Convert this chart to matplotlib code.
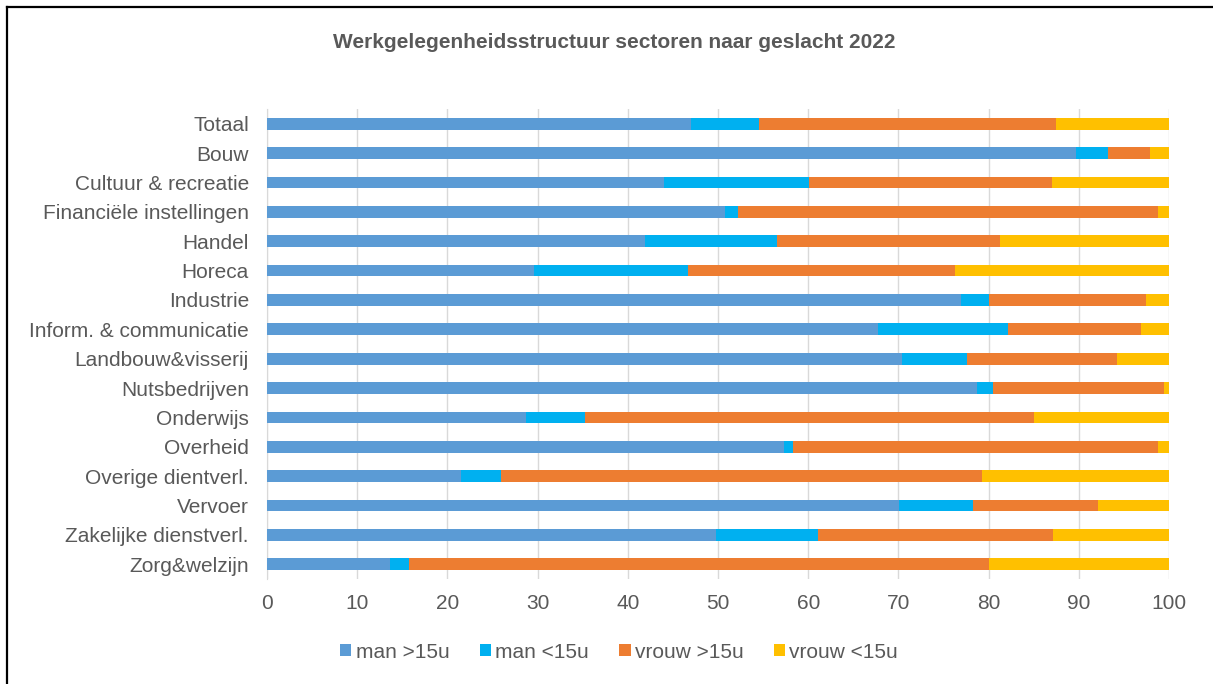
import numpy as np
import matplotlib.pyplot as plt
from matplotlib.lines import Line2D

plt.rcParams['font.family'] = ['Liberation Sans', 'DejaVu Sans']

# sectoren (van boven naar beneden)
sectoren = ["Totaal", "Bouw", "Cultuur & recreatie", "Financiële instellingen",
            "Handel", "Horeca", "Industrie", "Inform. & communicatie",
            "Landbouw&visserij", "Nutsbedrijven", "Onderwijs", "Overheid",
            "Overige dientverl.", "Vervoer", "Zakelijke dienstverl.", "Zorg&welzijn"]

man_groot = [47.0, 89.7, 44.0, 50.8, 41.9, 29.6, 76.9, 67.7, 70.4, 78.7, 28.7, 57.3, 21.5, 70.1, 49.8, 13.6]
man_klein = [7.5, 3.5, 16.1, 1.4, 14.6, 17.1, 3.1, 14.5, 7.2, 1.8, 6.6, 1.0, 4.4, 8.2, 11.3, 2.1]
vrouw_groot = [33.0, 4.7, 26.9, 46.6, 24.8, 29.6, 17.5, 14.7, 16.6, 19.0, 49.7, 40.5, 53.4, 13.8, 26.0, 64.3]
vrouw_klein = [12.5, 2.1, 13.0, 1.2, 18.7, 23.7, 2.5, 3.1, 5.8, 0.5, 15.0, 1.2, 20.7, 7.9, 12.9, 20.0]

reeksen = ["man >15u", "man <15u", "vrouw >15u", "vrouw <15u"]
kleuren = ["#5B9BD5", "#00B0F0", "#ED7D31", "#FFC000"]

W, H = 1213, 684
fig = plt.figure(figsize=(W / 100, H / 100), dpi=100)
ax = fig.add_axes([267 / W, 1 - 579 / H, (1169 - 267) / W, (579 - 109) / H])

y = np.arange(len(sectoren))
links = np.zeros(len(sectoren))
for waarden, naam, kleur in zip([man_groot, man_klein, vrouw_groot, vrouw_klein], reeksen, kleuren):
    ax.barh(y, waarden, left=links, height=0.4, color=kleur, label=naam, zorder=3)
    links += np.array(waarden)

ax.set_xlim(0, 100)
ax.set_ylim(len(sectoren) - 0.5, -0.5)
ax.set_xticks(range(0, 101, 10))
ax.set_yticks(y)
ax.set_yticklabels(sectoren)
ax.tick_params(axis='both', length=0, labelsize=15, colors='#595959')
ax.tick_params(axis='x', pad=11)
ax.tick_params(axis='y', pad=13)
ax.grid(axis='x', color='#D9D9D9', linewidth=1, zorder=0)
for s in ['top', 'right', 'bottom']:
    ax.spines[s].set_visible(False)
ax.spines['left'].set_color('#D9D9D9')

fig.text(614 / W, 1 - 43 / H, "Werkgelegenheidsstructuur sectoren naar geslacht 2022",
         ha='center', va='center', fontsize=15, fontweight='bold', color='#595959')

fig.legend(loc='center', bbox_to_anchor=(619 / W, 1 - 652 / H), ncol=4, frameon=False,
           fontsize=15, labelcolor='#595959', handlelength=0.55, handleheight=0.55,
           handletextpad=0.2, columnspacing=1.45)

# kader (alleen boven- en linkerrand zichtbaar)
fig.add_artist(Line2D([7 / W, 1.01], [1 - 7 / H, 1 - 7 / H], transform=fig.transFigure,
                      color='black', linewidth=1.6))
fig.add_artist(Line2D([7 / W, 7 / W], [-0.01, 1 - 7 / H], transform=fig.transFigure,
                      color='black', linewidth=1.6))

fig.savefig("out.png", dpi=100)
